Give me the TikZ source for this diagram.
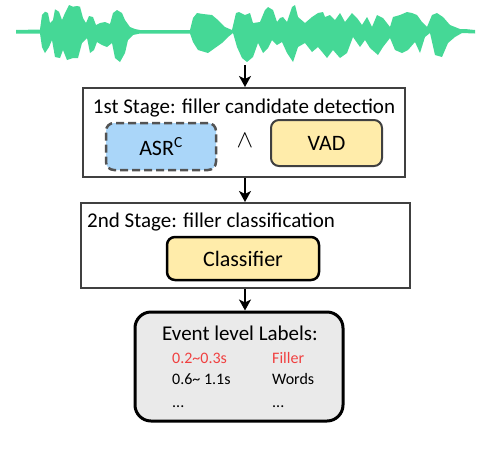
\documentclass[tikz,border=0pt]{standalone}
\usepackage{fontspec}
\setmainfont{Carlito}
\usetikzlibrary{calc,arrows.meta,positioning}
\tikzset{>=Stealth}
\definecolor{wavegreen}{RGB}{69,216,150}
\definecolor{asrblue}{RGB}{170,214,249}
\definecolor{modyellow}{RGB}{255,236,170}
\definecolor{boxgray}{RGB}{64,64,64}
\definecolor{labelgray}{RGB}{234,234,234}
\definecolor{fillerred}{RGB}{240,64,64}
\tikzset{
  stagebox/.style={draw=boxgray,line width=2pt,inner sep=0pt},
  modbox/.style={rounded corners=8pt,inner sep=0pt,
    font=\fontsize{22}{26}\selectfont},
  titletext/.style={inner sep=0pt,font=\fontsize{21}{25}\selectfont},
  rowtext/.style={inner sep=0pt,anchor=base west,
    font=\fontsize{16}{19}\selectfont},
  flow/.style={line width=1.8pt,-{Stealth[length=11pt,width=12pt,inset=3pt]}}
}
\begin{document}
\begin{tikzpicture}[x=1pt,y=-1pt]
\useasboundingbox (0,0) rectangle (490,456);
\fill[wavegreen] plot coordinates {
  (16,30) (40,29.5) (42,15) (45,11.7) (48,13) (50,23) (53,20) (55,9.3)
  (59,11.7) (62,20) (65,13) (69,5) (73,6.7) (77,6) (80,6.7) (83,18)
  (86,23) (89,16) (93,17) (96,25) (100,23) (105,22) (110,24) (113,13)
  (117,10) (122,13) (125,20) (130,27) (135,29) (140,30) (190,30) (193,18)
  (197,13) (203,14) (212,15) (218,20) (225,27) (232,30) (236,13) (239,12)
  (245,15) (250,13) (253,23) (260,22) (265,10) (268,7) (273,10) (277,22)
  (280,18) (283,17) (287,22) (292,7) (295,5) (298,17) (305,23) (312,17)
  (318,13) (323,12) (325,17) (330,15) (335,20) (340,13) (345,22) (352,13)
  (357,18) (362,25) (367,17) (372,27) (377,15) (383,18) (390,27) (393,17)
  (400,15) (407,12) (412,13) (417,15) (422,22) (427,27) (432,15) (437,13)
  (443,17) (450,25) (455,27) (460,29) (465,29) (475,30)
  (475,33.5) (462,33) (455,37) (448,43) (442,57) (435,55) (430,33) (425,37)
  (420,53) (415,42) (408,50) (402,53) (395,50) (390,38) (383,47) (378,55)
  (370,48) (365,40) (360,47) (353,37) (347,53) (340,58) (333,50) (327,58)
  (323,53) (318,47) (312,52) (305,43) (298,47) (293,62) (287,53) (282,42)
  (277,45) (272,40) (268,48) (263,53) (258,43) (253,57) (247,62) (242,58)
  (237,47) (233,33) (228,37) (222,43) (215,48) (208,53) (198,50) (193,42)
  (190,33.5) (140,33.5) (133,35) (128,40) (125,53) (120,62) (115,58) (112,43)
  (107,47) (102,45) (97,42) (94,50) (90,53) (87,38) (82,43) (78,58)
  (73,58) (67,60) (63,50) (60,58) (55,57) (52,40) (49,47) (45,53)
  (42,47) (40,33.5) (16,33.5)} -- cycle;
\coordinate (wave) at (245,65);
% first stage
\node[stagebox,minimum width=322pt,minimum height=89pt] (stageone) at (244,132.5) {};
\node[titletext,anchor=base] (titleone) at (244,113) {1st Stage: filler candidate detection};
\node[modbox,draw=boxgray!90,line width=2.5pt,dash pattern=on 8pt off 4pt,
      fill=asrblue,minimum width=110pt,minimum height=47pt] (asr) at (161,146.5)
  {ASR\textsuperscript{C}};
\node[inner sep=0pt,font=\fontsize{27}{30}\selectfont] (and) at (245,141) {$\wedge$};
\node[modbox,draw=boxgray,line width=2pt,fill=modyellow,
      minimum width=111pt,minimum height=46pt] (vad) at (326.5,143) {VAD};
% second stage
\node[stagebox,minimum width=329pt,minimum height=85pt] (stagetwo) at (245.5,245.5) {};
\node[titletext,anchor=base west] (titletwo) at (87,227) {2nd Stage: filler classification};
\node[modbox,draw=black,line width=2.5pt,fill=modyellow,
      minimum width=152pt,minimum height=43pt] (classifier) at (243,258.5) {Classifier};
% output
\node[draw=black,line width=3pt,rounded corners=16pt,fill=labelgray,
      minimum width=208pt,minimum height=109pt] (labels) at (239,366.5) {};
\node[titletext,anchor=base] (labeltitle) at (240,340) {Event level Labels:};
\node[rowtext,text=fillerred] (timeone) at (172,363) {0.2\textasciitilde0.3s};
\node[rowtext,text=fillerred] (classone) at (272,363) {Filler};
\node[rowtext] (timetwo) at (172,384) {0.6\textasciitilde\ 1.1s};
\node[rowtext] (classtwo) at (272,384) {Words};
\node[rowtext] (timedots) at (172,407) {...};
\node[rowtext] (classdots) at (272,407) {...};
\draw[flow] (wave) -- (wave |- stageone.north);
\draw[flow] (wave |- stageone.south) -- (wave |- stagetwo.north);
\draw[flow] (wave |- stagetwo.south) -- (wave |- labels.north);
\end{tikzpicture}
\end{document}
